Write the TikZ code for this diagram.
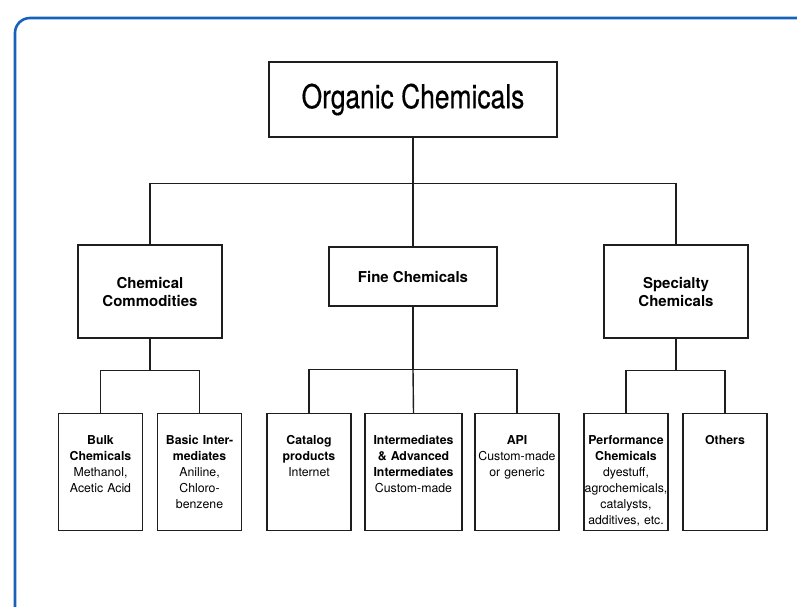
\documentclass[tikz,border=0pt]{standalone}
\usepackage{fontspec}
\setmainfont{TeX Gyre Heros}
\newfontfamily\condfont[FakeStretch=0.8,FakeBold=0.4]{TeX Gyre Heros}
\definecolor{frameblue}{RGB}{22,98,186}
\definecolor{inkgray}{RGB}{30,30,30}
\usepackage{tikz}
\usetikzlibrary{positioning,calc}

\begin{document}
\begin{tikzpicture}[x=1pt,y=-1pt,
    link/.style={draw=inkgray, line width=1.4pt},
    rootbox/.style={draw=inkgray, line width=1.4pt, minimum width=288pt, minimum height=75pt,
        inner sep=0pt, font=\condfont\fontsize{33}{38}\selectfont},
    groupbox/.style={draw=inkgray, line width=1.4pt, minimum width=144pt, minimum height=93pt,
        inner sep=0pt, align=center, font=\bfseries\fontsize{15}{18}\selectfont},
    leafbox/.style={draw=inkgray, line width=1.4pt, anchor=north, text width=#1, align=center,
        inner xsep=0pt, inner ysep=0pt, text height=31pt, text depth=86pt,
        font=\fontsize{12.3}{16}\selectfont},
    leafbox/.default=84pt]
            \useasboundingbox (0,0) rectangle (797,606);
            \begin{scope}
                \clip (0,0) rectangle (797,606);
                \draw[frameblue, line width=2.6pt, rounded corners=15pt] (15,18) rectangle (830,640);
            \end{scope}

            % top level
            \node[rootbox] (organic) at (413,99.5) {Organic Chemicals};

            % second level
            \node[groupbox] (commod) at (150,291.5) {Chemical\\Commodities};
            \node[groupbox, minimum width=168pt, minimum height=59pt] (fine) at (413,276.5) {Fine Chemicals};
            \node[groupbox] (special) at (676,291.5) {Specialty\\Chemicals};

            % third level
            \node[leafbox] (bulk) at (100.5,413) {\textbf{Bulk}\\\textbf{Chemicals}\\Methanol,\\Acetic Acid};
            \node[leafbox] (basic) at (199.5,413) {\textbf{Basic Inter-}\\\textbf{mediates}\\Aniline,\\Chloro-\\benzene};
            \node[leafbox] (catalog) at (309,413) {\textbf{Catalog}\\\textbf{products}\\Internet};
            \node[leafbox=97pt] (interm) at (413.5,413) {\textbf{Intermediates}\\\textbf{\& Advanced}\\\textbf{Intermediates}\\Custom-made};
            \node[leafbox] (api) at (517,413) {\textbf{API}\\Custom-made\\or generic};
            \node[leafbox] (perform) at (626,413) {\textbf{Performance}\\\textbf{Chemicals}\\dyestuff,\\agrochemicals,\\catalysts,\\additives, etc.};
            \node[leafbox] (others) at (725,413) {\textbf{Others}};

            % connectors
            \draw[link] (organic.south) -- ++(0,46) coordinate (topsplit);
            \draw[link] (commod.north) |- (topsplit) -| (special.north);
            \draw[link] (topsplit) -- (fine.north);

            \draw[link] (commod.south) -- ++(0,32) coordinate (commodsplit);
            \draw[link] (bulk.north) |- (commodsplit) -| (basic.north);

            \draw[link] (fine.south) -- ++(0,63) coordinate (finesplit);
            \draw[link] (catalog.north) |- (finesplit) -| (api.north);
            \draw[link] (finesplit) -- (interm.north);

            \draw[link] (special.south) -- ++(0,32) coordinate (specialsplit);
            \draw[link] (perform.north) |- (specialsplit) -| (others.north);
        \end{tikzpicture}
\end{document}
